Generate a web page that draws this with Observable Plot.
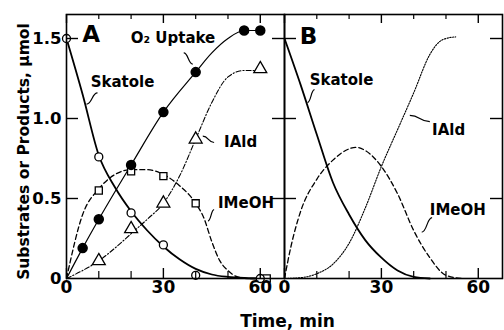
<!DOCTYPE html>
<html>
<head>
<meta charset="utf-8">
<script src="https://cdn.jsdelivr.net/npm/d3@7"></script>
<script src="https://cdn.jsdelivr.net/npm/@observablehq/plot@0.6"></script>
<style>
  html, body { margin: 0; padding: 0; background: #fff; }
  #chart svg { display: block; }
</style>
</head>
<body>
<div id="chart"></div>
<script>
// ---------- data ----------
const panels = ["A", "B"];
const xMajorTicks = [0, 30, 60];
const xMinorTicks = [10, 20, 40, 50];
const yTicks = [0, 0.5, 1.0, 1.5];

// Panel A: measured points
const skatoleA_t = [0, 10, 20, 30, 40, 60];
const skatoleA_v = [1.5, 0.76, 0.41, 0.21, 0.02, 0];
const o2A_t = [5, 10, 20, 30, 40, 55, 60];
const o2A_v = [0.19, 0.37, 0.71, 1.04, 1.29, 1.55, 1.55];
const ialdA_t = [10, 20, 30, 40, 60];
const ialdA_v = [0.11, 0.31, 0.47, 0.87, 1.31];
const imeohA_t = [10, 20, 30, 40, 62];
const imeohA_v = [0.55, 0.67, 0.64, 0.47, 0];

// Panel A: drawn (fitted) curves
const skatoleAfit_t = [0, 5, 10, 15, 20, 25, 30, 35, 40, 45, 50, 55, 60];
const skatoleAfit_v = [1.5, 1.15, 0.77, 0.57, 0.42, 0.30, 0.20, 0.12, 0.06, 0.025, 0.01, 0.003, 0];
const o2Afit_t = [0, 5, 10, 20, 30, 40, 45, 50, 55, 60];
const o2Afit_v = [0, 0.19, 0.37, 0.71, 1.04, 1.29, 1.41, 1.50, 1.55, 1.55];
const ialdAfit_t = [0, 5, 10, 15, 20, 25, 30, 35, 40, 45, 50, 55, 60];
const ialdAfit_v = [0, 0.05, 0.11, 0.19, 0.28, 0.37, 0.47, 0.64, 0.87, 1.10, 1.26, 1.30, 1.30];
const imeohAfit_t = [0, 5, 10, 15, 20, 25, 30, 35, 40, 42.5, 45, 47.5, 50, 53, 57, 62];
const imeohAfit_v = [0, 0.40, 0.56, 0.65, 0.68, 0.68, 0.65, 0.58, 0.47, 0.38, 0.23, 0.11, 0.05, 0.01, 0, 0];

// Panel B: simulated curves
const skatoleB_t = [0, 5, 10, 15, 20, 25, 30, 35, 40, 45];
const skatoleB_v = [1.5, 1.21, 0.90, 0.60, 0.40, 0.24, 0.13, 0.05, 0.01, 0];
const imeohB_t = [0, 2, 5, 10, 15, 20, 22, 25, 30, 35, 40, 45, 50, 55];
const imeohB_v = [0, 0.2, 0.42, 0.62, 0.74, 0.81, 0.82, 0.80, 0.70, 0.53, 0.30, 0.13, 0.02, 0];
const ialdB_t = [0, 5, 10, 15, 20, 25, 30, 35, 40, 45, 48, 50, 53];
const ialdB_v = [0, 0.005, 0.03, 0.09, 0.22, 0.44, 0.70, 0.93, 1.16, 1.40, 1.48, 1.50, 1.51];

// Curve labels (panel, text, x, y)
const labelPanel = ["A", "A", "A", "A", "B", "B", "B"];
const labelText  = ["O\u2082 Uptake", "Skatole", "IAld", "IMeOH", "Skatole", "IAld", "IMeOH"];
const labelX     = [19.9, 7.5, 48.8, 46.9, 7.8, 45.7, 45.0];
const labelY     = [1.50, 1.23, 0.85, 0.47, 1.24, 0.93, 0.425];

// Leader squiggles (panel, x1, y1, x2, y2)
const leadPanel = ["A", "A", "A", "A", "B", "B", "B"];
const leadX1 = [36.3, 9.6, 42.2, 45.7, 9.3, 38.8, 45.7];
const leadY1 = [1.41, 1.16, 0.89, 0.43, 1.18, 1.02, 0.38];
const leadX2 = [39.1, 6.2, 45.7, 43.8, 7.1, 45.0, 42.5];
const leadY2 = [1.34, 1.09, 0.85, 0.36, 1.10, 0.98, 0.29];

// Panel letters
const panelLetterX = [4.9, 4.7];
const panelLetterY = [1.525, 1.51];

// ---------- build tables ----------
const rows = (panel, name, ts, vs) => ts.map((t, i) => ({panel, name, t, v: vs[i]}));
const ptsSkatole = rows("A", "skatole", skatoleA_t, skatoleA_v);
const ptsO2 = rows("A", "o2", o2A_t, o2A_v);
const ptsIald = rows("A", "iald", ialdA_t, ialdA_v);
const ptsImeoh = rows("A", "imeoh", imeohA_t, imeohA_v);

const lnSkatole = [...rows("A", "skatole", skatoleAfit_t, skatoleAfit_v), ...rows("B", "skatole", skatoleB_t, skatoleB_v)];
const lnO2 = rows("A", "o2", o2Afit_t, o2Afit_v);
const lnIaldA = rows("A", "iald", ialdAfit_t, ialdAfit_v);
const lnIaldB = rows("B", "iald", ialdB_t, ialdB_v);
const lnImeoh = [...rows("A", "imeoh", imeohAfit_t, imeohAfit_v), ...rows("B", "imeoh", imeohB_t, imeohB_v)];

const labels = labelText.map((text, i) => ({panel: labelPanel[i], text, x: labelX[i], y: labelY[i]}));
const leaders = leadPanel.map((panel, i) => ({panel, x1: leadX1[i], y1: leadY1[i], x2: leadX2[i], y2: leadY2[i]}));
const letters = panels.map((p, i) => ({panel: p, x: panelLetterX[i], y: panelLetterY[i]}));

const mRight = 2;
const innerH = 330 - 14 - 52;
const facetW = (504 - 66 - mRight) / 2;
const font = "'DejaVu Sans', 'Liberation Sans', Arial, sans-serif";

const chart = Plot.plot({
  width: 504,
  height: 330,
  marginLeft: 66,
  marginRight: mRight,
  marginTop: 14,
  marginBottom: 52,
  style: {fontFamily: font, background: "white", color: "black"},
  fx: {domain: panels, padding: 0, axis: null, label: null},
  x: {domain: [0, 67.5], axis: null},
  y: {domain: [0, 1.65], axis: null},
  marks: [
    // curves
    Plot.line(lnSkatole, {x: "t", y: "v", fx: "panel", z: "panel", curve: "monotone-x", stroke: "black", strokeWidth: 1.8}),
    Plot.line(lnO2, {x: "t", y: "v", fx: "panel", curve: "monotone-x", stroke: "black", strokeWidth: 1.2}),
    Plot.line(lnIaldA, {x: "t", y: "v", fx: "panel", curve: "monotone-x", stroke: "black", strokeWidth: 1.1, strokeDasharray: "5,2,1.2,2"}),
    Plot.line(lnIaldB, {x: "t", y: "v", fx: "panel", curve: "monotone-x", stroke: "black", strokeWidth: 1.1, strokeDasharray: "1.4,1.4"}),
    Plot.line(lnImeoh, {x: "t", y: "v", fx: "panel", z: "panel", curve: "monotone-x", stroke: "black", strokeWidth: 1.3, strokeDasharray: "5,3"}),
    // markers
    Plot.dot(ptsImeoh, {x: "t", y: "v", fx: "panel", symbol: "square", r: 4, fill: "white", stroke: "black", strokeWidth: 1.3}),
    Plot.dot(ptsIald, {x: "t", y: "v", fx: "panel", symbol: "triangle", r: 4.8, fill: "white", stroke: "black", strokeWidth: 1.3}),
    Plot.dot(ptsSkatole, {x: "t", y: "v", fx: "panel", symbol: "circle", r: 4, fill: "white", stroke: "black", strokeWidth: 1.3}),
    Plot.dot(ptsO2, {x: "t", y: "v", fx: "panel", symbol: "circle", r: 4.5, fill: "black", stroke: "black"}),
    // frame
    Plot.frame({stroke: "black", strokeWidth: 1.6}),
    // x ticks (inward, bottom and top)
    Plot.ruleX(xMajorTicks, {stroke: "black", strokeWidth: 1.4, insetTop: innerH - 10}),
    Plot.ruleX(xMinorTicks, {stroke: "black", strokeWidth: 1.2, insetTop: innerH - 7}),
    Plot.ruleX(xMajorTicks, {stroke: "black", strokeWidth: 1.4, insetBottom: innerH - 9}),
    Plot.ruleX(xMinorTicks, {stroke: "black", strokeWidth: 1.2, insetBottom: innerH - 5}),
    // y ticks (inward, left and right)
    Plot.ruleY(yTicks.slice(1), {stroke: "black", strokeWidth: 1.4, insetRight: facetW - 12}),
    Plot.ruleY(yTicks.slice(1), {stroke: "black", strokeWidth: 1.4, insetLeft: facetW - 12}),
    // tick labels
    Plot.axisX(xMajorTicks, {tickSize: 0, tickPadding: 2, fontSize: 17, fontWeight: "bold", label: null}),
    Plot.axisY(yTicks, {tickSize: 0, tickPadding: 5, fontSize: 16.5, fontWeight: "bold", label: null,
      tickFormat: d => d === 0 ? "0" : d.toFixed(1)}),
    // leaders
    Plot.link(leaders, {x1: "x1", y1: "y1", x2: "x2", y2: "y2", fx: "panel", curve: "bump-x", stroke: "black", strokeWidth: 1.2}),
    // curve labels
    Plot.text(labels, {x: "x", y: "y", fx: "panel", text: "text", textAnchor: "start", fontSize: 15, fontWeight: "bold", fill: "black", letterSpacing: -0.2}),
    // panel letters
    Plot.text(letters, {x: "x", y: "y", fx: "panel", text: "panel", textAnchor: "start", fontSize: 23, fontWeight: "bold", fill: "black"}),
    // axis titles
    Plot.text([{panel: "A"}], {fx: "panel", frameAnchor: "left", textAnchor: "middle", lineAnchor: "middle",
      text: () => "Substrates or Products, \u03bcmol",
      rotate: -90, dx: -42, dy: 5, fontSize: 15.5, fontWeight: "bold", fill: "black"}),
    Plot.text([{panel: "B"}], {fx: "panel", frameAnchor: "bottom-left", textAnchor: "middle", lineAnchor: "top",
      text: () => "Time, min",
      dx: 3, dy: 36, fontSize: 17, fontWeight: "bold", fill: "black"})
  ]
});
document.getElementById("chart").appendChild(chart);
</script>
</body>
</html>
